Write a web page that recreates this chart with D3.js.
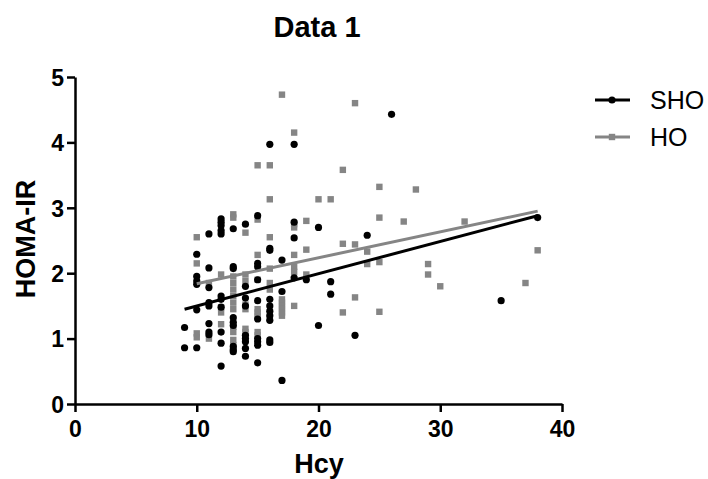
<!DOCTYPE html>
<html>
<head>
<meta charset="utf-8">
<script src="https://cdn.jsdelivr.net/npm/d3@7"></script>
<style>
  body { margin: 0; background: #fff; }
  text { font-family: "Liberation Sans", Arial, sans-serif; }
</style>
</head>
<body>
<svg id="chart" width="708" height="479"></svg>
<script>
// SHO group, [Hcy, HOMA-IR]
var shoPoints = [
  [9,1.17],[9,0.86],
  [10,2.29],[10,1.95],[10,1.88],[10,1.83],[10,1.44],[10,0.86],
  [11,2.6],[11,2.08],[11,1.78],[11,1.55],[11,1.5],[11,1.23],[11,1.1],[11,1.06],
  [12,2.83],[12,2.78],[12,2.73],[12,2.65],[12,2.6],[12,1.65],[12,1.6],[12,1.48],[12,1.1],[12,0.93],[12,0.58],
  [13,2.68],[13,2.1],[13,2.07],[13,1.32],[13,1.25],[13,1.2],[13,0.88],[13,0.83],[13,0.8],
  [14,2.75],[14,1.8],[14,1.62],[14,1.5],[14,1.05],[14,1.0],[14,0.95],[14,0.85],[14,0.73],
  [15,2.88],[15,2.15],[15,2.1],[15,1.9],[15,1.58],[15,1.3],[15,1.0],[15,0.95],[15,0.9],[15,0.63],
  [16,3.97],[16,2.38],[16,2.35],[16,1.6],[16,1.5],[16,1.42],[16,1.35],[16,1.28],[16,0.98],[16,0.94],
  [17,2.2],[17,1.72],[17,0.36],
  [18,3.97],[18,2.78],[18,2.54],[18,1.93],
  [19,1.9],
  [20,2.7],[20,1.2],
  [21,1.87],[21,1.68],
  [23,1.05],[24,2.58],[26,4.43],[35,1.58],[38,2.85]
];

// HO group
var hoPoints = [
  [10,2.55],[10,2.15],[10,1.08],[10,1.02],
  [11,1.85],[11,1.0],
  [12,1.98],[12,1.48],[12,1.4],[12,1.22],
  [13,2.9],[13,2.85],[13,1.95],[13,1.85],[13,1.75],[13,1.65],[13,1.55],[13,1.45],[13,1.18],[13,1.1],[13,0.98],[13,0.9],
  [14,2.62],[14,1.98],[14,1.88],[14,1.52],[14,1.45],[14,1.15],[14,1.1],
  [15,3.65],[15,2.82],[15,2.28],[15,1.9],[15,1.45],[15,1.4],[15,1.35],[15,1.1],[15,1.05],
  [16,3.65],[16,3.13],[16,2.55],[16,2.07],[16,1.85],[16,1.75],[16,1.3],
  [17,4.73],[17,1.6],[17,1.55],[17,1.5],[17,1.45],[17,1.4],[17,1.35],
  [18,4.15],[18,2.75],[18,2.7],[18,2.28],[18,2.1],[18,2.02],[18,1.5],
  [19,2.8],[19,2.36],[19,1.98],
  [20,3.13],[21,3.13],
  [22,3.58],[22,2.45],[22,1.4],
  [23,4.6],[23,2.44],[23,1.63],
  [24,2.33],[24,2.14],
  [25,3.32],[25,2.85],[25,2.17],[25,1.41],
  [27,2.79],[28,3.28],[29,2.14],[29,1.98],[30,1.8],[32,2.79],[37,1.85],[38,2.35]
];

// fitted lines: [x start, x end, slope, intercept]
var shoFit = [9, 38, 0.0493, 1.006];
var hoFit = [10, 38, 0.0396, 1.444];

var xTicks = [0, 10, 20, 30, 40];
var yTicks = [0, 1, 2, 3, 4, 5];

var svg = d3.select("#chart");
var x = d3.scaleLinear().domain([0, 40]).range([75, 562]);
var y = d3.scaleLinear().domain([0, 5]).range([404, 77]);

var grey = "#858585";

// axes
var xAxis = svg.append("g")
  .attr("transform", "translate(0,404)")
  .call(d3.axisBottom(x).tickValues(xTicks).tickFormat(d3.format("d"))
    .tickSize(8).tickPadding(9).tickSizeOuter(0));
var yAxis = svg.append("g")
  .attr("transform", "translate(75,0)")
  .call(d3.axisLeft(y).tickValues(yTicks).tickFormat(d3.format("d"))
    .tickSize(8).tickPadding(3).tickSizeOuter(0));

[xAxis, yAxis].forEach(function(a) {
  a.attr("font-size", 23).attr("font-family", "'Liberation Sans', Arial, sans-serif");
  a.select(".domain").attr("stroke", "#000").attr("stroke-width", 2.5);
  a.selectAll(".tick line").attr("stroke", "#000").attr("stroke-width", 2.5);
  a.selectAll(".tick text")
    .attr("fill", "#000")
    .attr("font-weight", "bold");
});
yAxis.selectAll(".tick text").attr("dy", "0.36em");

// HO squares
svg.append("g").selectAll("rect")
  .data(hoPoints)
  .enter().append("rect")
  .attr("x", function(d) { return x(d[0]) - 3.2 })
  .attr("y", function(d) { return y(d[1]) - 3.2 })
  .attr("width", 6.4)
  .attr("height", 6.4)
  .attr("fill", grey);

// SHO circles
svg.append("g").selectAll("circle")
  .data(shoPoints)
  .enter().append("circle")
  .attr("cx", function(d) { return x(d[0]) })
  .attr("cy", function(d) { return y(d[1]) })
  .attr("r", 3.6)
  .attr("fill", "#000");

// regression lines
var fits = [[hoFit, grey], [shoFit, "#000"]];
fits.forEach(function(f) {
  var p = f[0];
  svg.append("line")
    .attr("x1", x(p[0])).attr("y1", y(p[2] * p[0] + p[3]))
    .attr("x2", x(p[1])).attr("y2", y(p[2] * p[1] + p[3]))
    .attr("stroke", f[1])
    .attr("stroke-width", 3);
});

// title + axis labels
svg.append("text")
  .attr("x", 317).attr("y", 37)
  .attr("text-anchor", "middle")
  .attr("font-size", 29).attr("font-weight", "bold")
  .text("Data 1");

svg.append("text")
  .attr("x", 319).attr("y", 473)
  .attr("text-anchor", "middle")
  .attr("font-size", 27).attr("font-weight", "bold")
  .text("Hcy");

svg.append("text")
  .attr("transform", "translate(35,239) rotate(-90)")
  .attr("text-anchor", "middle")
  .attr("font-size", 27).attr("font-weight", "bold")
  .text("HOMA-IR");

// legend
var legend = [["SHO", "#000", "circle"], ["HO", grey, "square"]];
legend.forEach(function(l, i) {
  var ly = 100 + i * 37;
  svg.append("line")
    .attr("x1", 595).attr("x2", 630).attr("y1", ly).attr("y2", ly)
    .attr("stroke", l[1]).attr("stroke-width", 3);
  if (l[2] == "circle") {
    svg.append("circle").attr("cx", 612).attr("cy", ly).attr("r", 3.6).attr("fill", l[1]);
  } else {
    svg.append("rect").attr("x", 608.8).attr("y", ly - 3.2).attr("width", 6.4).attr("height", 6.4).attr("fill", l[1]);
  }
  svg.append("text")
    .attr("x", 650).attr("y", ly + 9)
    .attr("font-size", 25)
    .text(l[0]);
});
</script>
</body>
</html>
